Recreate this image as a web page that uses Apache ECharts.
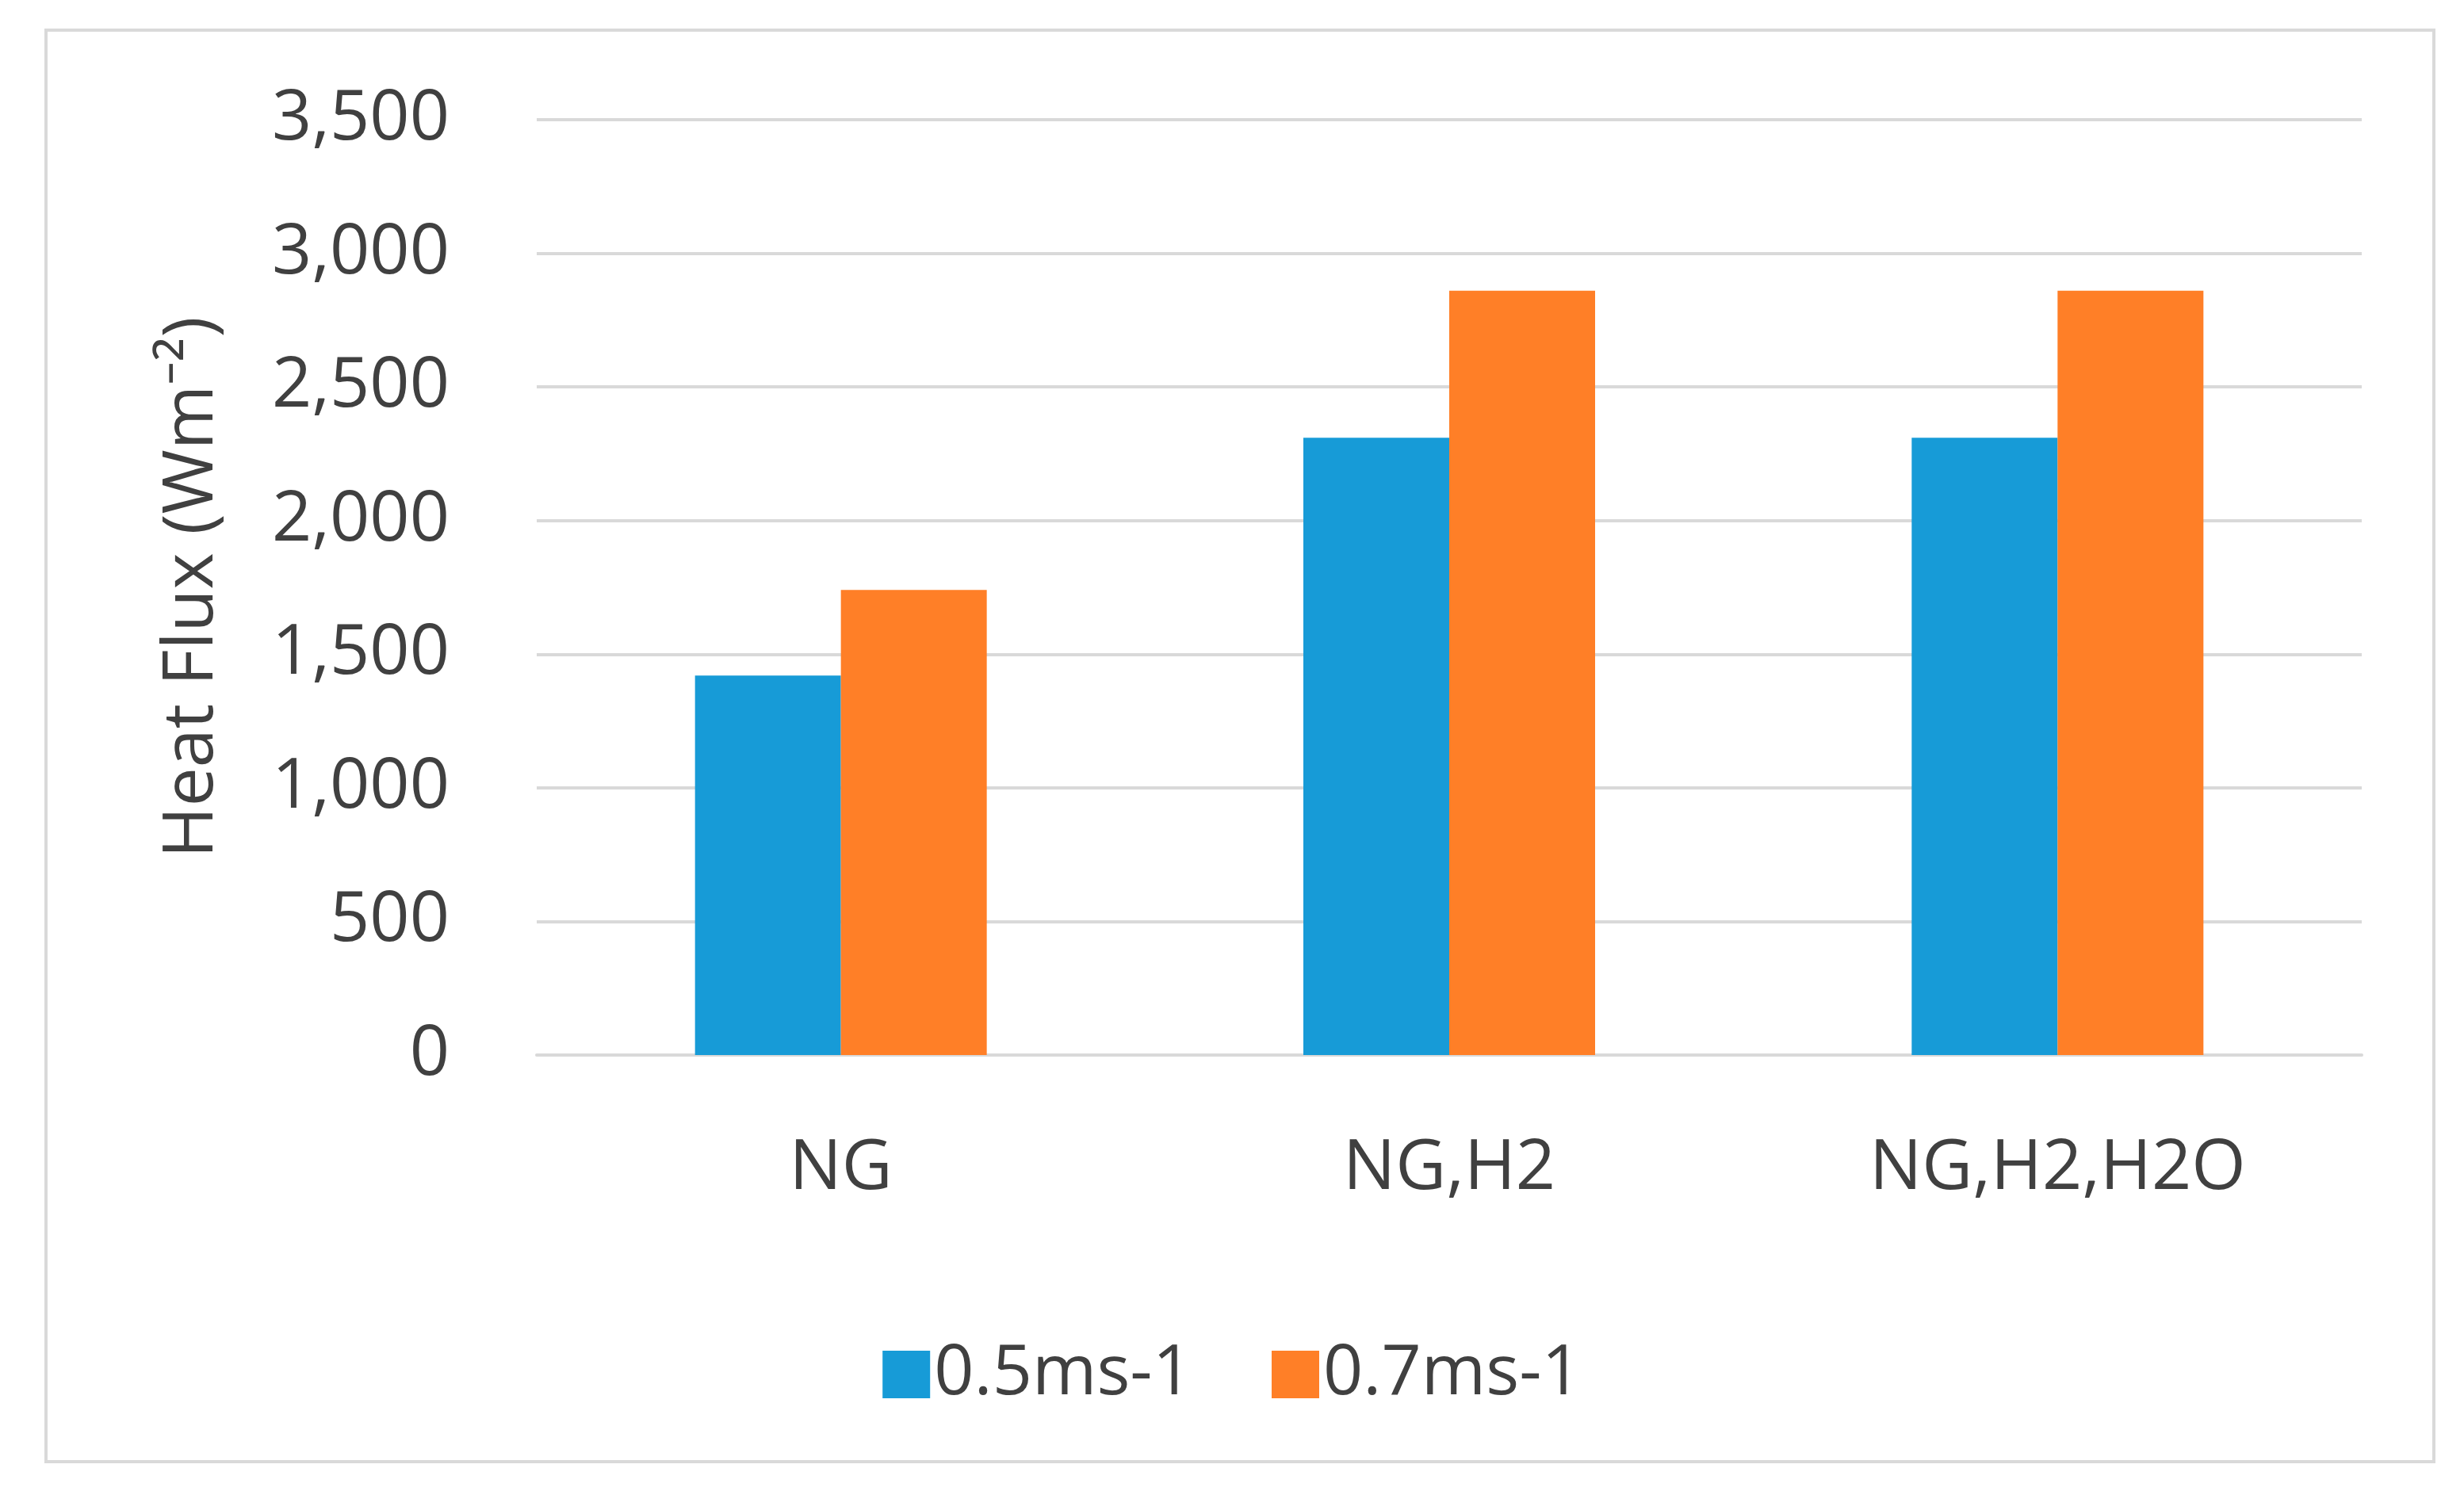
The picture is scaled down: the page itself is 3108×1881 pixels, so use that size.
<!DOCTYPE html>
<html><head><meta charset="utf-8">
<script src="https://cdn.jsdelivr.net/npm/echarts@6/dist/echarts.min.js"></script>
<style>html,body{margin:0;padding:0;background:#fff}#c{width:3108px;height:1881px}
#f{position:absolute;left:56px;top:36px;width:3016px;height:1810px;border:4px solid #d9d9d9;box-sizing:border-box;pointer-events:none}</style>
</head><body><div id="c"></div><div id="f"></div>
<script>
const categories = ["NG", "NG,H2", "NG,H2,H2O"];
const series05 = [1420, 2310, 2310];
const series07 = [1740, 2860, 2860];
const seriesNames = ["0.5ms-1", "0.7ms-1"];
const ch = echarts.init(document.getElementById('c'));
const font = "'Open Sans', 'Noto Sans', sans-serif";
ch.setOption({
  animation:false,
  textStyle:{fontFamily:font},
  grid:{left:677,right:129,top:151,bottom:550},
  legend:{bottom:98,left:'center',itemWidth:60,itemHeight:60,itemGap:100,
    textStyle:{fontSize:88,color:'#404040',fontFamily:font},icon:'rect',data:seriesNames},
  xAxis:{type:'category',data:categories,
    axisLine:{lineStyle:{color:'#d9d9d9',width:4}},axisTick:{show:false},
    axisLabel:{fontSize:88,color:'#404040',margin:100}},
  yAxis:{type:'value',min:0,max:3500,interval:500,
    name:'Heat Flux (Wm\u207B\u00B2)',nameLocation:'middle',nameGap:390,
    nameTextStyle:{fontSize:88,color:'#404040'},
    axisLine:{show:false},axisTick:{show:false},
    splitLine:{lineStyle:{color:'#d9d9d9',width:4}},
    axisLabel:{fontSize:88,color:'#404040',margin:110}},
  series:[
    {name:seriesNames[0],type:'bar',data:series05,barWidth:184,barGap:'0%',itemStyle:{color:'#179bd7'}},
    {name:seriesNames[1],type:'bar',data:series07,barWidth:184,itemStyle:{color:'#ff7f27'}}
  ]
});
</script></body></html>
